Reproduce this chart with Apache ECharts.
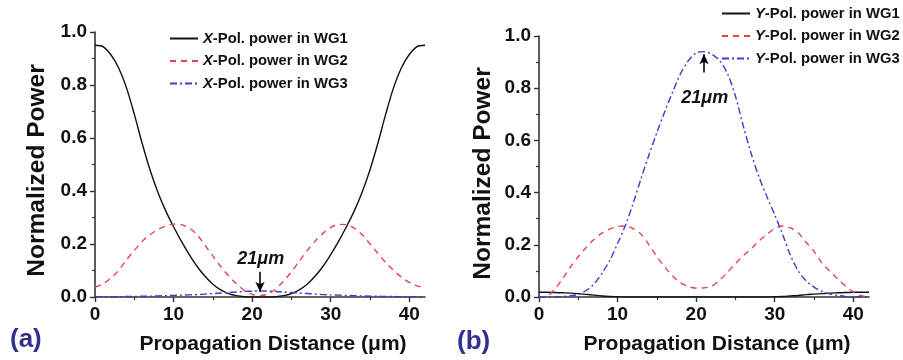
<!DOCTYPE html>
<html>
<head>
<meta charset="utf-8">
<script src="https://cdn.jsdelivr.net/npm/echarts/dist/echarts.min.js"></script>
<style>
  html, body { margin: 0; background: #fff; }
  #chart { width: 903px; height: 360px; }
</style>
</head>
<body>
<div id="chart"></div>
<script>
// propagation distance (um), one point per micron
const distance = [0,1,2,3,4,5,6,7,8,9,10,11,12,13,14,15,16,17,18,19,20,21,22,23,24,25,26,27,28,29,30,31,32,33,34,35,36,37,38,39,40,41,42]

// (a) X-polarisation
const xWG1 = [0.95,0.945,0.915,0.865,0.79,0.69,0.58,0.48,0.395,0.325,0.265,0.21,0.16,0.115,0.078,0.048,0.027,0.013,0.005,0.001,0,0,0,0.001,0.005,0.013,0.027,0.048,0.078,0.115,0.16,0.21,0.265,0.325,0.395,0.48,0.58,0.69,0.79,0.865,0.915,0.945,0.95]
const xWG2 = [0.037,0.05,0.07,0.1,0.14,0.175,0.21,0.235,0.255,0.268,0.275,0.273,0.26,0.235,0.195,0.155,0.115,0.08,0.05,0.025,0.01,0.005,0.012,0.03,0.06,0.095,0.135,0.175,0.21,0.24,0.262,0.274,0.273,0.26,0.235,0.2,0.165,0.13,0.1,0.075,0.055,0.042,0.035]
const xWG3 = [0.001,0.001,0.001,0.001,0.002,0.002,0.003,0.003,0.004,0.005,0.006,0.007,0.008,0.009,0.011,0.013,0.015,0.017,0.019,0.021,0.022,0.023,0.022,0.021,0.019,0.017,0.015,0.013,0.011,0.009,0.008,0.007,0.006,0.005,0.004,0.003,0.003,0.002,0.002,0.001,0.001,0.001,0.001]

// (b) Y-polarisation
const yWG1 = [0.018,0.018,0.017,0.016,0.015,0.013,0.01,0.007,0.004,0.002,0.001,0,0,0,0,0,0,0,0,0,0,0,0,0,0,0,0,0,0,0,0.001,0.002,0.004,0.006,0.009,0.011,0.013,0.015,0.016,0.017,0.018,0.018,0.018]
const yWG2 = [0,0.003,0.03,0.07,0.115,0.155,0.19,0.22,0.245,0.26,0.27,0.272,0.262,0.24,0.2,0.155,0.115,0.08,0.055,0.04,0.034,0.035,0.042,0.065,0.095,0.128,0.158,0.185,0.215,0.24,0.262,0.272,0.265,0.245,0.21,0.175,0.13,0.1,0.07,0.042,0.02,0.005,0]
const yWG3 = [0,0,0,0.002,0.005,0.01,0.025,0.05,0.09,0.14,0.205,0.275,0.36,0.455,0.545,0.63,0.71,0.785,0.855,0.905,0.935,0.94,0.93,0.905,0.855,0.77,0.655,0.55,0.46,0.385,0.315,0.24,0.16,0.1,0.062,0.038,0.022,0.012,0.006,0.002,0,0,0]

const xTicks = [0, 10, 20, 30, 40]

const FONT = '"Liberation Sans", Arial, sans-serif'
const INK = '#111'
const BLACK = '#111'
const RED = '#e8434b'
const BLUE = '#3b3bd0'

const pairs = (ys) => distance.map((x, i) => [x, ys[i]])

const axisLine = { show: true, onZero: false, lineStyle: { color: '#333', width: 1.6 } }
const labelStyle = { fontSize: 19, fontWeight: 'bold', color: INK, fontFamily: FONT }

const makeX = (gridIndex) => ({
  type: 'value',
  gridIndex,
  min: 0,
  max: 42,
  interval: 10,
  axisLine,
  axisTick: { show: true, length: 5, customValues: xTicks, lineStyle: { color: '#333', width: 1.4 } },
  minorTick: { show: true, splitNumber: 2, length: 3, lineStyle: { color: '#333', width: 1.2 } },
  splitLine: { show: false },
  axisLabel: { ...labelStyle, margin: 8, customValues: xTicks },
  name: 'Propagation Distance (μm)',
  nameLocation: 'middle',
  nameGap: 37,
  nameTextStyle: { fontSize: 21, fontWeight: 'bold', color: INK, fontFamily: FONT, padding: [0, 0, 0, 26] },
})

const makeY = (gridIndex, gap, shift) => ({
  type: 'value',
  gridIndex,
  min: 0,
  max: 1,
  interval: 0.2,
  axisLine,
  axisTick: { show: true, length: 5, lineStyle: { color: '#333', width: 1.4 } },
  minorTick: { show: true, splitNumber: 2, length: 3, lineStyle: { color: '#333', width: 1.2 } },
  splitLine: { show: false },
  axisLabel: { ...labelStyle, margin: 8, formatter: (v) => v.toFixed(1) },
  name: 'Normalized Power',
  nameLocation: 'middle',
  nameGap: gap,
  nameTextStyle: { fontSize: 24.5, fontWeight: 'bold', color: INK, fontFamily: FONT, padding: [0, shift, 0, 0] },
})

const line = (name, data, color, type, axis) => ({
  name,
  type: 'line',
  xAxisIndex: axis,
  yAxisIndex: axis,
  data: pairs(data),
  symbol: 'none',
  smooth: 0.3,
  lineStyle: { color, width: 1.4, type },
  itemStyle: { color },
  z: 3,
})

const arrow = (from, to) => ({
  silent: true,
  symbol: ['none', 'arrow'],
  symbolSize: [7, 10],
  label: { show: false },
  lineStyle: { color: '#000', width: 1.6, type: 'solid' },
  data: [[{ coord: from }, { coord: to }]],
})

const note = (coord) => ({
  silent: true,
  symbol: 'circle',
  symbolSize: 1,
  itemStyle: { color: 'rgba(0,0,0,0)' },
  label: {
    show: true,
    position: 'inside',
    formatter: '21μm',
    fontSize: 18,
    fontWeight: 'bold',
    fontStyle: 'italic',
    color: INK,
    fontFamily: FONT,
  },
  data: [{ coord }],
})

const legendBase = {
  orient: 'vertical',
  itemWidth: 28,
  itemHeight: 12,
  itemGap: 7.5,
  itemStyle: { opacity: 0 },
  formatter: (name) => '{i|' + name[0] + '}' + name.slice(1),
  textStyle: {
    fontSize: 14.8,
    fontWeight: 'bold',
    color: INK,
    fontFamily: FONT,
    lineHeight: 14,
    rich: { i: { fontSize: 14.8, fontWeight: 'bold', fontStyle: 'italic', color: INK, fontFamily: FONT } },
  },
}

const chart = echarts.init(document.getElementById('chart'))

const wg1a = line('X-Pol. power in WG1', xWG1, BLACK, 'solid', 0)
wg1a.markLine = arrow([21, 0.095], [21, 0.02])
wg1a.markPoint = note([21.1, 0.143])

const wg3b = line('Y-Pol. power in WG3', yWG3, BLUE, [7, 3, 2, 3], 1)
wg3b.markLine = arrow([21, 0.86], [21, 0.93])
wg3b.markPoint = note([21.1, 0.764])

chart.setOption({
  animation: false,
  backgroundColor: '#fff',
  grid: [
    { left: 95, top: 32, width: 330, height: 266 },
    { left: 539, top: 36, width: 330, height: 266 },
  ],
  xAxis: [makeX(0), makeX(1)],
  yAxis: [makeY(0, 45, 12), makeY(1, 43, 14)],
  legend: [
    { ...legendBase, left: 164, top: 26, data: ['X-Pol. power in WG1', 'X-Pol. power in WG2', 'X-Pol. power in WG3'] },
    { ...legendBase, left: 716, top: 1, data: ['Y-Pol. power in WG1', 'Y-Pol. power in WG2', 'Y-Pol. power in WG3'] },
  ],
  graphic: [
    { type: 'text', left: 10, top: 327, style: { text: '(a)', fontSize: 26, fontWeight: 'bold', fill: '#30308f', fontFamily: FONT } },
    { type: 'text', left: 457, top: 329, style: { text: '(b)', fontSize: 26, fontWeight: 'bold', fill: '#30308f', fontFamily: FONT } },
  ],
  series: [
    wg1a,
    line('X-Pol. power in WG2', xWG2, RED, [6, 5], 0),
    line('X-Pol. power in WG3', xWG3, BLUE, [7, 3, 2, 3], 0),
    line('Y-Pol. power in WG1', yWG1, BLACK, 'solid', 1),
    line('Y-Pol. power in WG2', yWG2, RED, [6, 5], 1),
    wg3b,
  ],
})
</script>
</body>
</html>
